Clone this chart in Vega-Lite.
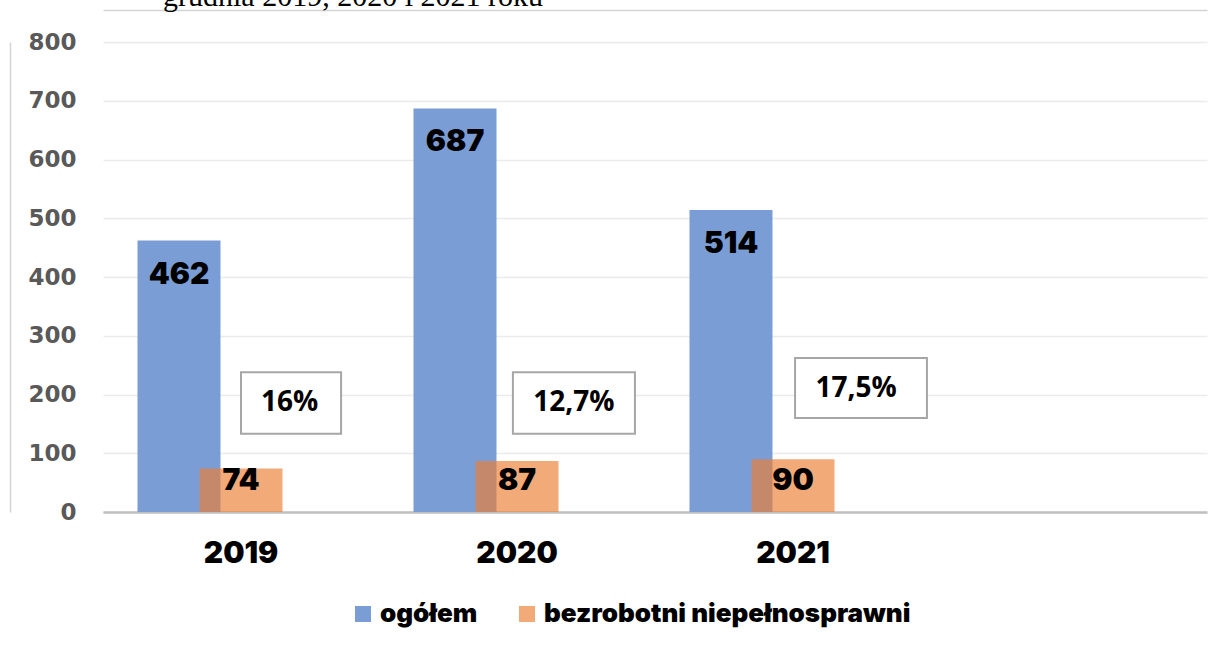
{
  "$schema": "https://vega.github.io/schema/vega-lite/v6.json",
  "width": 1104,
  "height": 470,
  "autosize": {"type": "none"},
  "padding": {"left": 103, "top": 42, "right": 17, "bottom": 134},
  "background": "white",
  "title": {
    "text": "grudnia 2019, 2020 i 2021 roku",
    "anchor": "start",
    "frame": "group",
    "font": "Liberation Serif",
    "fontSize": 30,
    "fontWeight": "normal",
    "color": "black",
    "baseline": "alphabetic",
    "offset": 0,
    "dx": 60,
    "dy": 26
  },
  "datasets": {
    "slupki": [
      {"rok": "2019", "seria": "ogółem", "wartosc": 462},
      {"rok": "2020", "seria": "ogółem", "wartosc": 687},
      {"rok": "2021", "seria": "ogółem", "wartosc": 514},
      {"rok": "2019", "seria": "bezrobotni niepełnosprawni", "wartosc": 74},
      {"rok": "2020", "seria": "bezrobotni niepełnosprawni", "wartosc": 87},
      {"rok": "2021", "seria": "bezrobotni niepełnosprawni", "wartosc": 90}
    ],
    "udzialy": [
      {"rok": "2019", "udzial": "16%"},
      {"rok": "2020", "udzial": "12,7%"},
      {"rok": "2021", "udzial": "17,5%"}
    ]
  },
  "config": {
    "view": {"stroke": null}
  },
  "resolve": {"axis": {"x": "independent", "y": "independent"}},
  "layer": [
    {
      "encoding": {
        "x": {
          "field": "rok",
          "type": "nominal",
          "sort": null,
          "scale": {"domain": ["2019", "2020", "2021", ""], "paddingInner": 0.326, "paddingOuter": 0.163},
          "axis": {
            "title": null,
            "orient": "bottom",
            "labelAngle": 0,
            "labelFont": "Inter",
            "labelFontWeight": 900,
            "labelFontSize": 30,
            "labelColor": "black",
            "labelPadding": 26,
            "ticks": false,
            "grid": false,
            "domainColor": "#bfbfbf",
            "domainWidth": 2.5
          }
        }
      },
      "layer": [
        {
          "data": {"name": "slupki"},
          "mark": {"type": "bar", "width": 83},
          "encoding": {
            "xOffset": {
              "field": "seria",
              "type": "nominal",
              "sort": null,
              "scale": {"domain": ["ogółem", "bezrobotni niepełnosprawni", "udział"], "paddingInner": 0, "paddingOuter": 0}
            },
            "y": {
              "field": "wartosc",
              "type": "quantitative",
              "scale": {"domain": [0, 800], "nice": false},
              "axis": {
                "title": null,
                "orient": "left",
                "values": [0, 100, 200, 300, 400, 500, 600, 700, 800],
                "labelFont": "DejaVu Sans",
                "labelFontWeight": "bold",
                "labelFontSize": 23,
                "labelColor": "#595959",
                "labelPadding": 27,
                "ticks": false,
                "domain": false,
                "grid": true,
                "gridColor": "#ebebeb",
                "gridWidth": 1.5
              }
            },
            "color": {
              "field": "seria",
              "type": "nominal",
              "sort": null,
              "scale": {"domain": ["ogółem", "bezrobotni niepełnosprawni"], "range": ["#7B9DD6", "#ED7D31"]},
              "legend": {
                "title": null,
                "orient": "none",
                "legendX": 247,
                "legendY": 559,
                "direction": "horizontal",
                "symbolType": "square",
                "symbolSize": 256,
                "symbolStrokeWidth": 0,
                "labelFont": "Inter",
                "labelFontWeight": 900,
                "labelFontSize": 26,
                "labelColor": "black",
                "labelOffset": 4,
                "labelLimit": 600,
                "columnPadding": 36
              }
            },
            "opacity": {
              "field": "seria",
              "type": "nominal",
              "sort": null,
              "scale": {"domain": ["ogółem", "bezrobotni niepełnosprawni"], "range": [1, 0.65]}
            }
          }
        },
        {
          "data": {"name": "slupki"},
          "transform": [{"filter": "datum.seria === 'ogółem'"}],
          "mark": {"type": "text", "dy": 34, "baseline": "middle", "font": "Inter", "fontWeight": 900, "fontSize": 30, "color": "black"},
          "encoding": {
            "xOffset": {"field": "seria", "type": "nominal", "sort": null},
            "y": {"field": "wartosc", "type": "quantitative"},
            "text": {"field": "wartosc", "type": "quantitative"}
          }
        },
        {
          "data": {"name": "slupki"},
          "transform": [{"filter": "datum.seria === 'bezrobotni niepełnosprawni'"}],
          "mark": {"type": "text", "dy": -31, "baseline": "middle", "font": "Inter", "fontWeight": 900, "fontSize": 30, "color": "black"},
          "encoding": {
            "xOffset": {"field": "seria", "type": "nominal", "sort": null},
            "y": {"datum": 0, "type": "quantitative"},
            "text": {"field": "wartosc", "type": "quantitative"}
          }
        },
        {
          "data": {"name": "udzialy"},
          "transform": [{"filter": "datum.rok === '2019'"}],
          "mark": {"type": "bar", "fill": "white", "stroke": "#a6a6a6", "strokeWidth": 2},
          "encoding": {
            "x": {"field": "rok", "type": "nominal", "bandPosition": 0.5},
            "x2": {"field": "rok", "bandPosition": 1.038},
            "y": {"datum": 238, "type": "quantitative"},
            "y2": {"datum": 133}
          }
        },
        {
          "data": {"name": "udzialy"},
          "transform": [{"filter": "datum.rok === '2020'"}],
          "mark": {"type": "bar", "fill": "white", "stroke": "#a6a6a6", "strokeWidth": 2},
          "encoding": {
            "x": {"field": "rok", "type": "nominal", "bandPosition": 0.478},
            "x2": {"field": "rok", "bandPosition": 1.134},
            "y": {"datum": 238, "type": "quantitative"},
            "y2": {"datum": 133}
          }
        },
        {
          "data": {"name": "udzialy"},
          "transform": [{"filter": "datum.rok === '2021'"}],
          "mark": {"type": "bar", "fill": "white", "stroke": "#a6a6a6", "strokeWidth": 2},
          "encoding": {
            "x": {"field": "rok", "type": "nominal", "bandPosition": 0.511},
            "x2": {"field": "rok", "bandPosition": 1.22},
            "y": {"datum": 262, "type": "quantitative"},
            "y2": {"datum": 160}
          }
        },
        {
          "data": {"name": "udzialy"},
          "transform": [{"filter": "datum.rok === '2019'"}],
          "mark": {"type": "text", "baseline": "middle", "font": "Open Sans", "fontWeight": "bold", "fontSize": 28, "color": "black"},
          "encoding": {
            "x": {"field": "rok", "type": "nominal", "bandPosition": 0.761},
            "y": {"datum": 185.5, "type": "quantitative"},
            "text": {"field": "udzial", "type": "nominal"}
          }
        },
        {
          "data": {"name": "udzialy"},
          "transform": [{"filter": "datum.rok === '2020'"}],
          "mark": {"type": "text", "baseline": "middle", "font": "Open Sans", "fontWeight": "bold", "fontSize": 28, "color": "black"},
          "encoding": {
            "x": {"field": "rok", "type": "nominal", "bandPosition": 0.806},
            "y": {"datum": 185.5, "type": "quantitative"},
            "text": {"field": "udzial", "type": "nominal"}
          }
        },
        {
          "data": {"name": "udzialy"},
          "transform": [{"filter": "datum.rok === '2021'"}],
          "mark": {"type": "text", "baseline": "middle", "font": "Open Sans", "fontWeight": "bold", "fontSize": 28, "color": "black"},
          "encoding": {
            "x": {"field": "rok", "type": "nominal", "bandPosition": 0.839},
            "y": {"datum": 209, "type": "quantitative"},
            "text": {"field": "udzial", "type": "nominal"}
          }
        }
      ]
    },
    {
      "data": {"name": "slupki"},
      "mark": {"type": "bar", "opacity": 0},
      "encoding": {
        "x": {
          "field": "rok",
          "type": "nominal",
          "sort": null,
          "axis": {"title": null, "orient": "top", "offset": 32, "labels": false, "ticks": false, "grid": false, "domain": true, "domainColor": "#d4d4d4", "domainWidth": 1.5}
        },
        "y": {
          "field": "wartosc",
          "type": "quantitative",
          "axis": {"title": null, "orient": "left", "offset": 93, "labels": false, "ticks": false, "grid": false, "domain": true, "domainColor": "#d4d4d4", "domainWidth": 1.5}
        }
      }
    }
  ]
}
